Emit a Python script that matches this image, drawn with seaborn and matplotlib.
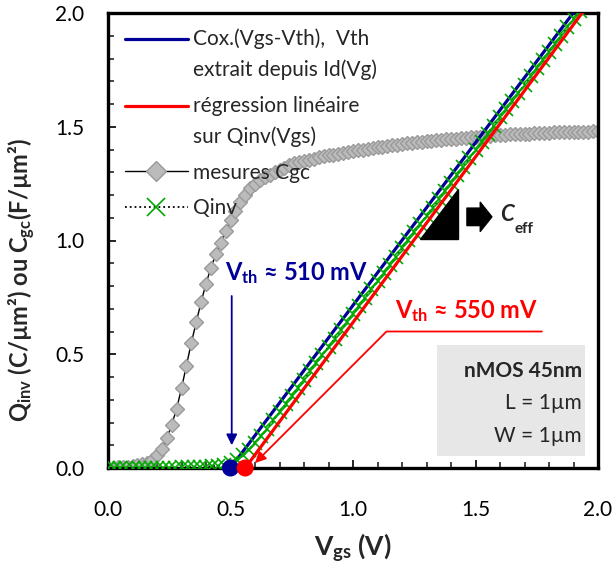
import numpy as np
import matplotlib
matplotlib.use('Agg')
import matplotlib.pyplot as plt
import matplotlib.patches as mpatches
from matplotlib.ticker import MultipleLocator
from matplotlib.legend_handler import HandlerLine2D
import seaborn as sns

# values
# measured Cgc, sampled every 20 mV
vgs_cgc = np.round(np.arange(0, 2.0001, 0.02), 3)
cgc = [0.000, 0.002, 0.003, 0.004, 0.006, 0.008, 0.011, 0.016, 0.024, 0.036,
       0.055, 0.085, 0.130, 0.190, 0.260, 0.350, 0.450, 0.550, 0.640, 0.730,
       0.810, 0.880, 0.940, 0.990, 1.040, 1.090, 1.130, 1.170, 1.200, 1.230,
       1.250, 1.265, 1.280, 1.290, 1.300, 1.310, 1.320, 1.330, 1.340, 1.345,
       1.350, 1.355, 1.360, 1.365, 1.370, 1.375, 1.378, 1.382, 1.386, 1.390,
       1.393, 1.397, 1.400, 1.403, 1.406, 1.409, 1.412, 1.415, 1.418, 1.421,
       1.424, 1.427, 1.429, 1.432, 1.434, 1.436, 1.438, 1.440, 1.442, 1.444,
       1.446, 1.448, 1.450, 1.452, 1.454, 1.456, 1.457, 1.459, 1.460, 1.462,
       1.463, 1.464, 1.466, 1.467, 1.468, 1.469, 1.470, 1.471, 1.472, 1.473,
       1.474, 1.475, 1.476, 1.476, 1.477, 1.478, 1.478, 1.479, 1.479, 1.480,
       1.480]

# Qinv, sampled every 25 mV
vgs_qinv = np.round(np.arange(0, 2.0001, 0.025), 3)
qinv = [0.000, 0.000, 0.000, 0.000, 0.000, 0.000, 0.001, 0.001, 0.001, 0.002,
        0.002, 0.002, 0.003, 0.003, 0.004, 0.005, 0.006, 0.008, 0.010, 0.013,
        0.020, 0.035, 0.055, 0.080, 0.110, 0.140, 0.173, 0.209, 0.245, 0.281,
        0.317, 0.353, 0.389, 0.425, 0.461, 0.497, 0.533, 0.569, 0.605, 0.641,
        0.677, 0.713, 0.749, 0.785, 0.821, 0.857, 0.893, 0.929, 0.965, 1.001,
        1.037, 1.073, 1.109, 1.145, 1.181, 1.217, 1.253, 1.289, 1.325, 1.361,
        1.397, 1.433, 1.469, 1.505, 1.541, 1.577, 1.613, 1.649, 1.685, 1.721,
        1.757, 1.793, 1.829, 1.865, 1.901, 1.937, 1.973, 2.009, 2.045, 2.081,
        2.117]

# straight lines Cox.(Vgs-Vth)
vgs_fit_id = [0.50, 2.00]
q_fit_id = [0.0, 2.145]
vgs_fit_reg = [0.56, 2.00]
q_fit_reg = [0.0, 2.095]
vth_points = [0.50, 0.56]
vth_names = ['Id', 'reg']

blue = '#000099'
red = '#FF0000'
green = '#00AA00'


# legend handle next to the first line of a two-line label
class FirstLineHandler(HandlerLine2D):
    def create_artists(self, legend, orig_handle, xdescent, ydescent, width,
                       height, fontsize, trans):
        artists = super().create_artists(legend, orig_handle, xdescent, ydescent,
                                         width, height, fontsize, trans)
        for a in artists:
            a.set_ydata(np.asarray(a.get_ydata()) + 11.5)
        return artists


sns.set_theme(style='ticks')
plt.rcParams['font.family'] = ['Lato', 'DejaVu Sans']
plt.rcParams['mathtext.fontset'] = 'custom'
plt.rcParams['mathtext.rm'] = 'Lato'
plt.rcParams['mathtext.bf'] = 'Lato:bold'
plt.rcParams['mathtext.it'] = 'Lato:italic'

fig = plt.figure(figsize=(6.13, 5.68), dpi=100)
ax = fig.add_axes([108 / 613, 100 / 568, 490 / 613, 455 / 568])

sns.lineplot(x=vgs_cgc, y=cgc, ax=ax, color='black', linewidth=1, marker='D',
             markersize=7.5, markerfacecolor='#BBBBBB', markeredgecolor='#9A9A9A',
             markeredgewidth=1, label='mesures Cgc', zorder=2)
sns.lineplot(x=vgs_fit_id, y=q_fit_id, ax=ax, color=blue, linewidth=2.3,
             label='Cox.(Vgs-Vth),  Vth\nextrait depuis Id(Vg)', zorder=3)
sns.lineplot(x=vgs_qinv, y=qinv, ax=ax, color='black', linewidth=1.3,
             linestyle=':', marker='x', markersize=9.5, markeredgecolor=green,
             markeredgewidth=1.2, label='Qinv', zorder=4)
sns.lineplot(x=vgs_fit_reg, y=q_fit_reg, ax=ax, color=red, linewidth=2.3,
             label='régression linéaire\nsur Qinv(Vgs)', zorder=5)
sns.scatterplot(x=vth_points, y=[0, 0], hue=vth_names, palette=[blue, red],
                s=150, linewidth=0, legend=False, clip_on=False, zorder=6, ax=ax)

ax.set_xlim(0, 2)
ax.set_ylim(0, 2)
ax.xaxis.set_major_locator(MultipleLocator(0.5))
ax.xaxis.set_minor_locator(MultipleLocator(0.1))
ax.yaxis.set_major_locator(MultipleLocator(0.5))
ax.yaxis.set_minor_locator(MultipleLocator(0.1))
ax.xaxis.set_major_formatter(plt.FuncFormatter(lambda v, pos: f'{v:.1f}'))
ax.yaxis.set_major_formatter(plt.FuncFormatter(lambda v, pos: f'{v:.1f}'))
ax.tick_params(which='major', direction='in', length=6, width=1.2, labelsize=15,
               colors='black')
ax.tick_params(which='minor', direction='in', length=4, width=1.2)
ax.tick_params(axis='x', which='major', pad=23)
ax.tick_params(axis='y', which='major', pad=17)
for s in ax.spines.values():
    s.set_linewidth(2.4)
    s.set_color('black')

ax.set_xlabel(r'V$_{\mathbf{gs}}$ (V)', fontsize=19, fontweight='bold')
ax.xaxis.set_label_coords(0.5, (468 - 548) / 455)
ax.xaxis.label.set_va('center')
ax.set_ylabel(r'Q$_{\mathbf{inv}}$ (C/µm²) ou C$_{\mathbf{gc}}$(F/µm²)',
              fontsize=17, fontweight='bold')
ax.yaxis.set_label_coords((22 - 108) / 490, (468 - 280) / 455)
ax.yaxis.label.set_va('center')

# legend, reordered as in the original
h, l = ax.get_legend_handles_labels()
order = [1, 3, 0, 2]
hmap = {h[1]: FirstLineHandler(), h[3]: FirstLineHandler()}
leg = ax.legend([h[i] for i in order], [l[i] for i in order], loc='upper left',
                bbox_to_anchor=(0.035, 0.967), borderaxespad=0, borderpad=0,
                frameon=False, fontsize=15, handlelength=3.0, handletextpad=0.25,
                labelspacing=0.75, numpoints=1, markerscale=1.3, handler_map=hmap)
for t in leg.get_texts():
    t.set_linespacing(1.65)

# Vth annotations
ax.annotate('', xy=(0.505, 0.10), xytext=(0.505, 0.756),
            arrowprops=dict(arrowstyle='-|>', color=blue, lw=1.3,
                            mutation_scale=16, shrinkA=0, shrinkB=0))
ax.text(0.771, 0.857, r'V$_{\mathbf{th}}$ ≈ 510 mV', color=blue, fontsize=17,
        fontweight='bold', ha='center', va='center')
ax.annotate('', xy=(0.60, 0.022), xytext=(1.771, 0.60),
            arrowprops=dict(arrowstyle='-|>', color=red, lw=1.3,
                            mutation_scale=16, shrinkA=0, shrinkB=0,
                            connectionstyle='angle,angleA=0,angleB=45,rad=0'))
ax.text(1.465, 0.689, r'V$_{\mathbf{th}}$ ≈ 550 mV', color=red, fontsize=17,
        fontweight='bold', ha='center', va='center')

# slope triangle and Ceff
ax.add_patch(mpatches.Polygon([(1.273, 1.007), (1.429, 1.007), (1.429, 1.227)],
                              closed=True, color='black', zorder=6))
ax.annotate('', xy=(1.567, 1.104), xytext=(1.465, 1.104),
            arrowprops=dict(arrowstyle='simple,head_length=0.6,head_width=1.5,tail_width=0.9',
                            fc='black', ec='black', mutation_scale=14,
                            shrinkA=0, shrinkB=0))
ax.text(1.63, 1.115, 'C', fontsize=16, fontweight='bold', fontstyle='italic',
        ha='center', va='center')
ax.text(1.66, 1.05, 'eff', fontsize=11, fontweight='bold', ha='left', va='center')

# device box
ax.add_patch(mpatches.Rectangle((1.343, 0.053), 0.604, 0.486, facecolor='#E7E7E7',
                                edgecolor='none', zorder=1))
ax.text(1.935, 0.428, 'nMOS 45nm', fontsize=15, fontweight='bold', ha='right', va='center')
ax.text(1.935, 0.287, 'L = 1µm', fontsize=15, ha='right', va='center')
ax.text(1.935, 0.141, 'W = 1µm', fontsize=15, ha='right', va='center')

fig.savefig('out.png', dpi=100)
